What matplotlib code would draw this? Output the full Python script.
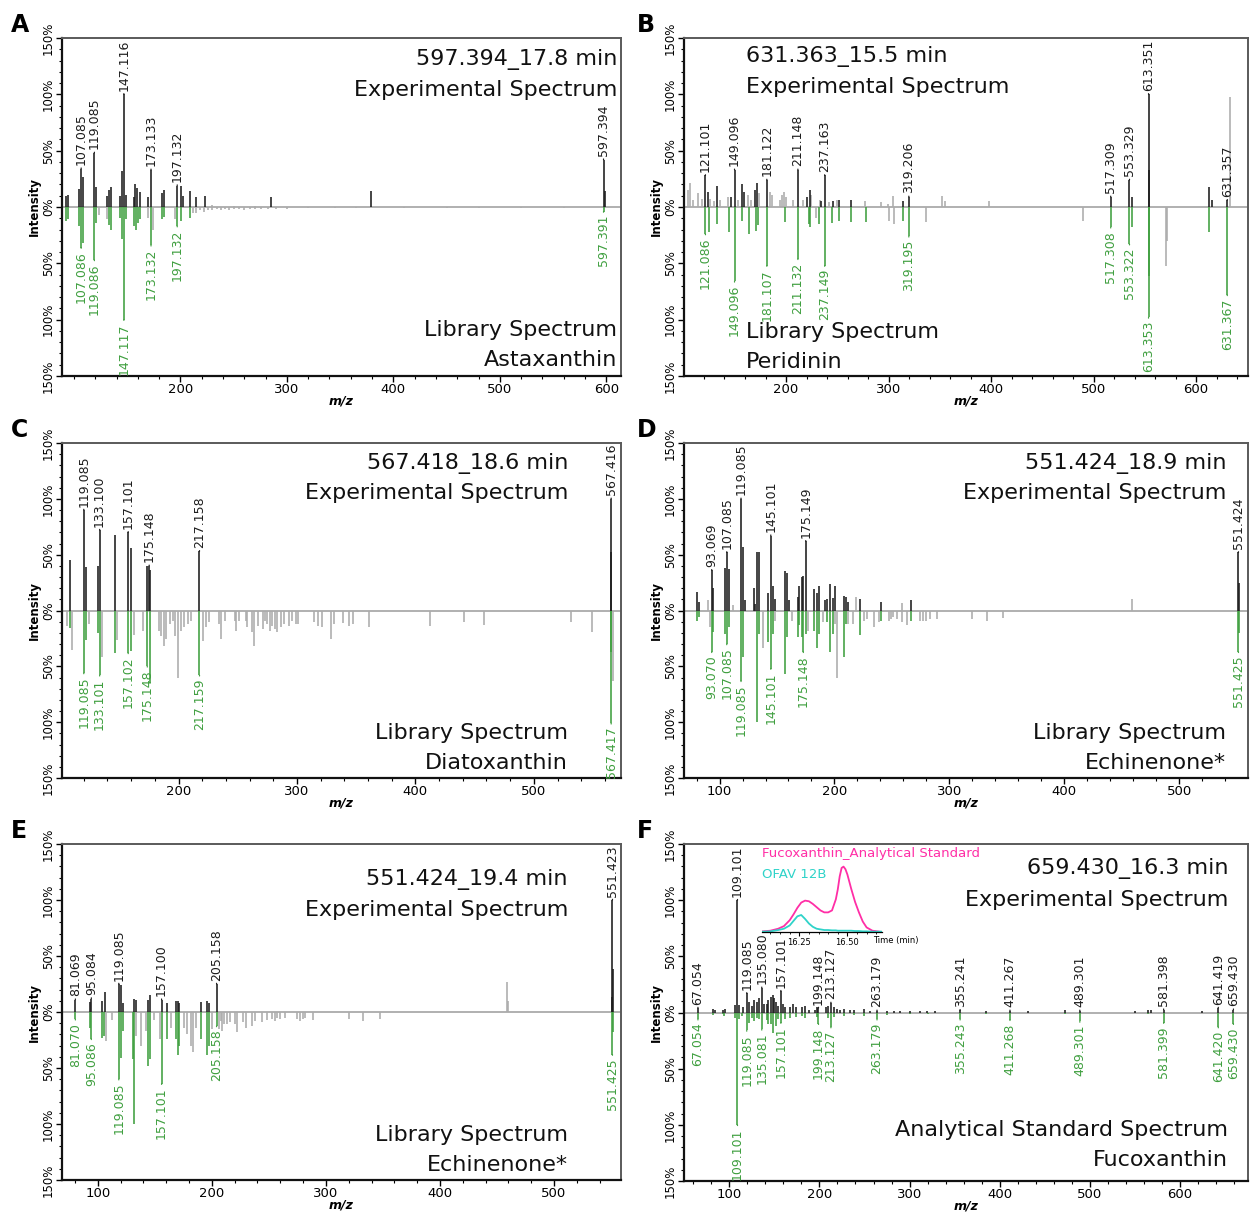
import matplotlib
matplotlib.use('Agg')
import matplotlib.pyplot as plt
from matplotlib.ticker import MultipleLocator

plt.rcParams['font.family'] = ['DejaVu Sans']

# ---------------- panel A : Astaxanthin ----------------
A_exp_black = [(92.8, 9.5), (94.7, 11), (105.2, 16), (108.9, 26.5), (121.2, 18), (131, 10),
               (132.9, 15.5), (134.8, 17.6), (142.9, 9.5), (145, 32), (148.5, 11), (156.2, 8.7),
               (157.2, 20), (159, 17), (161.6, 13), (169.3, 8.7), (183, 12), (184.5, 15.5),
               (200.4, 18.5), (202.5, 10), (209, 14.6), (215, 9), (223, 10), (285, 9),
               (379.2, 14), (598.5, 14)]
A_exp_gray = [(230, 1.5), (250, 1), (270, 1)]
A_exp_labels = [(106.8, 34, '107.085'), (119.2, 48, '119.085'), (146.9, 100, '147.116'),
                (172.4, 33, '173.133'), (197, 19, '197.132'), (597.4, 42, '597.394')]
A_lib_green = [(92.8, 12), (94.7, 11), (105.2, 17), (108.9, 32), (121.2, 14), (132.9, 16),
               (134.8, 20), (142.9, 10), (145, 28), (148.5, 11), (156.2, 17), (158, 20),
               (160, 14), (161.6, 11), (183, 11), (184.5, 9), (200.4, 12), (209, 10)]
A_lib_gray = [(123.5, 7), (131, 11), (169.3, 10), (173.8, 20), (194.8, 11), (212, 5), (215, 5),
              (218, 3), (222, 4), (226, 2.5), (230, 3), (234, 2), (238, 3), (242, 2), (246, 2.5),
              (250, 2), (255, 2), (260, 2.5), (265, 2), (270, 2), (276, 1.5), (282, 2),
              (290, 1.5), (300, 1.5), (320, 1), (345, 1), (365, 1), (410, 1), (450, 1),
              (480, 1), (520, 1), (560, 1)]
A_lib_labels = [(106.8, 36, '107.086'), (119.2, 47, '119.086'), (146.9, 100, '147.117'),
                (172.4, 34, '173.132'), (197, 17, '197.132'), (597.4, 4, '597.391')]

# ---------------- panel B : Peridinin ----------------
B_exp_black = [(124.3, 13), (132.9, 19), (146.5, 9), (157.1, 20), (159, 13), (169.3, 15),
               (171.3, 21), (220.8, 9), (223, 15.5), (234.5, 5), (245.8, 5), (251.4, 6.5),
               (263.8, 6.5), (314.3, 5), (537, 9), (554, 33), (612.8, 18), (615, 6)]
B_exp_gray = [(104.8, 15), (106.7, 21), (109, 6), (113.9, 12), (117.8, 7), (126.3, 7.5),
              (129.5, 5.5), (136, 6), (143.2, 9), (153, 6), (162.8, 10.5), (166, 6),
              (173.2, 12), (184, 13), (186.2, 10.5), (193.7, 6), (196, 10.5), (198, 13),
              (200.3, 9), (206.7, 6.5), (216.5, 6.5), (224.7, 10.5), (232.8, 6.5),
              (241.6, 4.5), (250, 6.5), (276.8, 5.5), (293, 4.5), (299.6, 3), (304.5, 9.5),
              (351.8, 10), (355, 5), (397.5, 5), (633.5, 98)]
B_exp_labels = [(121.4, 28, '121.101'), (149.8, 33, '149.096'), (181.3, 24, '181.122'),
                (211.6, 33, '211.148'), (237.7, 28, '237.163'), (319.8, 9, '319.206'),
                (516.7, 9, '517.309'), (535, 24, '553.329'), (553.6, 100, '613.351'),
                (630.4, 6, '631.357')]
B_lib_green = [(125.3, 22), (132.9, 15), (144.8, 22), (157, 12), (163.8, 24), (170.9, 21),
               (172.5, 16), (199, 13), (222, 15), (223.6, 18), (232.5, 15), (245, 14),
               (251.4, 12), (263, 13), (277.7, 13), (314.3, 12), (537, 18), (554, 61),
               (612.8, 22)]
B_lib_gray = [(229.3, 10), (300.5, 12), (305, 15), (337, 13), (490, 12), (570.8, 52), (572, 30)]
B_lib_labels = [(121.4, 24, '121.086'), (149.8, 66, '149.096'), (181.3, 52, '181.107'),
                (211.6, 46, '211.132'), (237.7, 52, '237.149'), (319.8, 26, '319.195'),
                (516.7, 18, '517.308'), (535, 33, '553.322'), (553.6, 98, '613.353'),
                (630.4, 78, '631.367')]

# ---------------- panel C : Diatoxanthin ----------------
C_exp_black = [(108.3, 45), (121.7, 39), (132, 40), (146, 68), (159.5, 56), (173.6, 40),
               (176.2, 36), (565.0, 52)]
C_exp_gray = []
C_exp_labels = [(120, 90, '119.085'), (133.4, 72, '133.100'), (157.5, 70, '157.101'),
                (175.2, 40, '175.148'), (217.7, 53, '217.158'), (565.3, 100, '567.416')]
C_lib_green = [(108.3, 16), (121.7, 26), (132, 20), (146, 38), (159.5, 36), (176.2, 65),
               (565.0, 37)]
C_lib_gray = [(105.9, 14), (110, 35), (124, 12), (135.7, 42), (148.4, 26), (162, 22),
              (170.2, 18), (183.5, 18), (185.5, 22.6), (187.4, 31.6), (189.7, 25.6),
              (192.4, 12), (195.2, 9), (196.6, 22.6), (199.7, 60), (202.2, 18), (205, 15),
              (207.8, 12), (210.7, 9), (221, 27), (223.3, 15), (225.5, 10.5), (234.4, 12),
              (235.9, 25.6), (239.5, 9), (247.9, 9), (248.5, 18), (251.2, 9), (256.9, 9),
              (258.2, 15), (262.4, 19.6), (263.3, 31.6), (267.5, 13.5), (270.9, 16.6),
              (273, 9), (275, 12), (277, 18), (279.2, 13.5), (281.5, 16.6), (283.4, 19.6),
              (286.3, 15), (289, 12), (293.2, 13.5), (296, 9), (299.4, 12), (300.8, 12),
              (314, 10), (317.5, 13.5), (321, 15), (328.6, 25.6), (331, 12), (339, 11),
              (344, 13.5), (347.6, 12), (360.4, 15), (412.3, 13.5), (440.7, 10.5),
              (458, 13), (531.8, 10.5), (549.5, 19.6), (566.8, 63)]
C_lib_labels = [(120, 56, '119.085'), (133.4, 58, '133.101'), (157.5, 38, '157.102'),
                (173.6, 50, '175.148'), (217.7, 58, '217.159'), (565.3, 101, '567.417')]

# ---------------- panel D : Echinenone* ----------------
D_exp_black = [(80.2, 16.4), (82.4, 7.5), (94.6, 20), (104.8, 38), (108.5, 37), (120.7, 57),
               (122.5, 9.5), (130, 20), (131.2, 6), (132.9, 52), (134.6, 52), (142.5, 16),
               (146.3, 22), (148.3, 10), (157, 35), (158.5, 34), (160.5, 9), (168, 12.5),
               (169.5, 21.5), (171.5, 30), (172.9, 31), (182.2, 19), (184.6, 16),
               (186.6, 21.5), (191.8, 9), (193.8, 10.5), (196.2, 24), (198.5, 11),
               (200.5, 22), (208.4, 13), (210.1, 12), (212.1, 8), (222.3, 10.5),
               (240.3, 7.5), (266.4, 9.5), (551.8, 25)]
D_exp_gray = [(90.3, 9.5), (112, 4.5), (218.8, 12.5), (258.6, 7), (458.4, 10.4)]
D_exp_labels = [(93.2, 36, '93.069'), (106.3, 52, '107.085'), (118.7, 100, '119.085'),
                (144.6, 67, '145.101'), (175, 62, '175.149'), (551.4, 52, '551.424')]
D_lib_green = [(80.2, 9), (82.4, 6), (94.6, 19), (104.8, 21), (108.5, 15), (120.7, 42),
               (132.9, 100), (134.6, 21), (142.5, 28), (146.3, 21), (157, 57), (158.5, 24),
               (168, 24), (169.5, 13), (171.5, 24), (175, 21), (182.2, 18), (184.6, 34),
               (186.6, 21), (193.8, 10), (196.2, 37), (198.5, 21), (208.4, 42), (210.1, 12),
               (222.3, 22), (240.3, 9), (266.4, 9), (551.8, 20)]
D_lib_gray = [(91.7, 15), (137.9, 34), (148.3, 9), (162.9, 9), (177.3, 18), (190.4, 10),
              (200.5, 12), (202.5, 60), (212.1, 12), (216.5, 12), (225.3, 9), (228.7, 7.5),
              (234, 15), (239, 10), (247, 9), (249, 7.5), (251, 6), (254, 7.5), (258.6, 10),
              (263, 13), (274.5, 9), (277.4, 9), (280, 9), (283, 7.5), (289, 7.5),
              (319.6, 7.5), (332.8, 9), (346.7, 7)]
D_lib_labels = [(93.2, 37, '93.070'), (106.3, 30, '107.085'), (118.7, 63, '119.085'),
                (144.6, 52, '145.101'), (172.9, 37, '175.148'), (551.4, 37, '551.425')]

# ---------------- panel E : Echinenone* ----------------
E_exp_black = [(92.9, 9), (103.7, 10), (106, 18), (120.5, 24), (122, 8), (131.6, 12),
               (133.6, 11), (144.4, 11), (146.1, 15), (160.6, 8), (168.5, 10), (170, 10),
               (171.4, 8), (190.3, 9), (196.1, 10), (197.5, 8), (551.0, 13), (551.6, 38)]
E_exp_gray = [(459, 27), (460, 10)]
E_exp_labels = [(80.4, 11, '81.069'), (94.4, 12, '95.084'), (118.5, 25, '119.085'),
                (156, 11, '157.100'), (204.2, 25, '205.158'), (551.2, 100, '551.423')]
E_lib_green = [(92.9, 14), (103.7, 23), (105.4, 21), (120.5, 41), (122, 17), (130.7, 42),
               (132.2, 100), (144.4, 48), (146.1, 42), (160.6, 24), (168.5, 24), (170, 38),
               (171.4, 30), (190.3, 24), (196.1, 38), (197.5, 30), (551.6, 18)]
E_lib_gray = [(107.4, 26), (112.4, 7), (133.6, 21), (138, 30), (142.3, 17), (149.7, 7),
              (155, 24), (164.1, 14), (175.8, 14), (178.7, 20), (181.6, 30), (183.9, 36),
              (185.9, 14), (200.4, 15), (206.2, 15), (207.7, 8), (209.1, 17), (210.6, 11),
              (213.5, 11), (215.8, 9), (220.7, 11), (222.2, 18), (227.4, 9), (230.3, 14),
              (235.2, 12.5), (238.2, 8), (244, 9), (248.3, 7), (252.7, 6), (255.6, 8),
              (257, 5), (260, 6.5), (264.3, 5), (274.5, 6.5), (277.4, 8), (280.3, 6.5),
              (281.7, 5), (289, 7), (320, 6.5), (332.9, 8), (347.2, 6)]
E_lib_labels = [(80.4, 6.5, '81.070'), (94.4, 24, '95.086'), (118.5, 60, '119.085'),
                (156, 64, '157.101'), (204.2, 12.5, '205.158'), (551.2, 38, '551.425')]

# ---------------- panel F : Fucoxanthin ----------------
F_exp_black = [(81.4, 3), (84, 2), (92.5, 2), (94.7, 3), (106.2, 7), (111, 7), (115.5, 4.5),
               (121.8, 9), (124.8, 6), (127.7, 11), (130.4, 9), (133.3, 13), (138.5, 7.5),
               (141.5, 7.5), (143.3, 11), (145.9, 14), (148.2, 15.5), (149.6, 13),
               (151.8, 9), (154.4, 6), (159.3, 7.5), (161.8, 5), (167.4, 4.5), (171.1, 8),
               (174.1, 4.5), (180.4, 5), (184.1, 6), (187.8, 2), (195.2, 2), (197.1, 4.5),
               (207.5, 4.5), (210, 6), (215.6, 5), (219.4, 3), (222.3, 2), (226.7, 3),
               (234.2, 2), (237.8, 2), (249, 3), (256.4, 1.5), (275, 1.5), (282.3, 1),
               (289.8, 1), (300.9, 1), (312, 1), (319.5, 1), (328.7, 1.5), (385, 1),
               (431.6, 1), (472.3, 2), (550.4, 1), (564.5, 2), (568, 2), (624.4, 1)]
F_exp_gray = []
F_exp_labels = [(65, 4, '67.054'), (108.9, 100, '109.101'), (119.2, 17, '119.085'),
                (135.9, 22, '135.080'), (157.1, 19, '157.101'), (198.9, 4, '199.148'),
                (212.7, 8.5, '213.127'), (263.9, 1.5, '263.179'), (356.2, 2, '355.241'),
                (411.6, 1.5, '411.267'), (489.2, 1.5, '489.301'), (582.3, 2.5, '581.398'),
                (643, 4, '641.419'), (659.8, 2.5, '659.430')]
F_lib_green = [(82.1, 2), (92.5, 1.5), (94, 3), (106.2, 5), (111, 6), (113.7, 3), (121.8, 9),
               (124.8, 4.5), (127.7, 7.5), (130.4, 5), (133.3, 6), (141.5, 7), (143.3, 10),
               (145.9, 10), (148.8, 18), (151.8, 12), (154.4, 6), (161.8, 6), (167.4, 4.5),
               (174.1, 4), (180.4, 3), (184.1, 5), (197.1, 4), (210, 5), (215.6, 4),
               (226.7, 3), (237.8, 2), (249, 3), (275, 2), (300, 1), (320, 1), (385, 1),
               (472.3, 1.5), (564.5, 1.5)]
F_lib_gray = []
F_lib_labels = [(65, 6, '67.054'), (108.9, 100, '109.101'), (119.2, 16, '119.085'),
                (135.9, 15, '135.081'), (157.1, 9, '157.101'), (198.9, 10, '199.148'),
                (212.7, 13, '213.127'), (263.9, 6, '263.179'), (356.2, 6, '355.243'),
                (411.6, 6.5, '411.268'), (489.2, 8, '489.301'), (582.3, 9, '581.399'),
                (643, 13, '641.420'), (659.8, 10, '659.430')]

# inset chromatogram (panel F), relative intensity
inset_time = [16.06, 16.10, 16.14, 16.17, 16.20, 16.22, 16.24, 16.26, 16.28, 16.30, 16.32,
              16.34, 16.36, 16.38, 16.40, 16.42, 16.44, 16.45, 16.46, 16.47, 16.48, 16.49,
              16.50, 16.52, 16.54, 16.56, 16.58, 16.60, 16.63, 16.68]
fuco_std = [1, 2, 5, 9, 18, 27, 37, 45, 48, 47, 43, 38, 33, 30, 30, 33, 50, 65, 85, 98, 100,
            96, 88, 66, 46, 30, 16, 7, 2, 0]
ofav_12b = [0.5, 1, 3, 5, 10, 17, 24, 26, 20, 13, 8, 5, 4, 3, 3, 2.5, 2.5, 2, 2, 2, 2, 2, 2,
            2, 1.5, 1.5, 1, 1, 0.5, 0.5]

BLACK = '#1c1c1c'
GRAY = '#ababab'
GREEN = '#3f9f3f'
MAGENTA = '#ff2ea6'
CYAN = '#2fd3c9'

W, H = 1250, 1214
fig = plt.figure(figsize=(W / 100, H / 100), dpi=100)


def rect(l, t, r, b):  # pixel box -> figure fraction
    return [l / W, 1 - b / H, (r - l) / W, (b - t) / H]


def bars(ax, peaks, color, sign):
    if not peaks:
        return
    mz = [p[0] for p in peaks]
    h = [sign * p[1] for p in peaks]
    ax.vlines(mz, 0, h, colors=color, lw=1.15, zorder=2)


def labels(ax, labs, color, sign):
    for mz, h, txt in labs:
        ax.vlines(mz, 0, sign * h, colors=color, lw=1.15, zorder=3)
        ax.annotate(txt, xy=(mz, sign * h), xytext=(0, sign * 2.5), textcoords='offset points',
                    rotation=90, ha='center', va='bottom' if sign > 0 else 'top',
                    color=color, fontsize=9,
                    arrowprops=dict(arrowstyle='-', color=color, lw=0.9, shrinkA=0, shrinkB=0))


panels = [
    dict(letter='A', box=(62, 38, 621, 376), xlim=(88.8, 613.8), xt=[200, 300, 400, 500, 600],
         data=(A_exp_black, A_exp_gray, A_exp_labels, A_lib_green, A_lib_gray, A_lib_labels),
         lines=('597.394_17.8 min', 'Experimental Spectrum', 'Library Spectrum', 'Astaxanthin'),
         tx=0.993, ha='right', ty=(0.935, 0.846, 0.136, 0.047)),
    dict(letter='B', box=(684, 38, 1248, 376), xlim=(100.5, 650.6), xt=[200, 300, 400, 500, 600],
         data=(B_exp_black, B_exp_gray, B_exp_labels, B_lib_green, B_lib_gray, B_lib_labels),
         lines=('631.363_15.5 min', 'Experimental Spectrum', 'Library Spectrum', 'Peridinin'),
         tx=0.110, ha='left', ty=(0.944, 0.855, 0.130, 0.041)),
    dict(letter='C', box=(62, 443, 621, 778), xlim=(101.6, 573.6), xt=[200, 300, 400, 500],
         data=(C_exp_black, C_exp_gray, C_exp_labels, C_lib_green, C_lib_gray, C_lib_labels),
         lines=('567.418_18.6 min', 'Experimental Spectrum', 'Library Spectrum', 'Diatoxanthin'),
         tx=0.905, ha='right', ty=(0.940, 0.851, 0.134, 0.045)),
    dict(letter='D', box=(684, 443, 1248, 778), xlim=(69.1, 559.7), xt=[100, 200, 300, 400, 500],
         data=(D_exp_black, D_exp_gray, D_exp_labels, D_lib_green, D_lib_gray, D_lib_labels),
         lines=('551.424_18.9 min', 'Experimental Spectrum', 'Library Spectrum', 'Echinenone*'),
         tx=0.961, ha='right', ty=(0.940, 0.851, 0.134, 0.045)),
    dict(letter='E', box=(62, 844, 621, 1180), xlim=(68.7, 558.7), xt=[100, 200, 300, 400, 500],
         data=(E_exp_black, E_exp_gray, E_exp_labels, E_lib_green, E_lib_gray, E_lib_labels),
         lines=('551.424_19.4 min', 'Experimental Spectrum', 'Library Spectrum', 'Echinenone*'),
         tx=0.905, ha='right', ty=(0.893, 0.804, 0.134, 0.045)),
    dict(letter='F', box=(684, 844, 1248, 1181), xlim=(49.5, 676), xt=[100, 200, 300, 400, 500, 600],
         data=(F_exp_black, F_exp_gray, F_exp_labels, F_lib_green, F_lib_gray, F_lib_labels),
         lines=('659.430_16.3 min', 'Experimental Spectrum', 'Analytical Standard Spectrum',
                'Fucoxanthin'),
         tx=0.965, ha='right', ty=(0.926, 0.834, 0.151, 0.062)),
]

for p in panels:
    l, t, r, b = p['box']
    ax = fig.add_axes(rect(l, t, r, b))
    ax.set_xlim(*p['xlim'])
    ax.set_ylim(-150, 150)
    ax.axhline(0, color='#a3a3a3', lw=1.2, zorder=1)

    exp_b, exp_g, exp_l, lib_g, lib_gr, lib_l = p['data']
    bars(ax, exp_g, GRAY, 1)
    bars(ax, lib_gr, GRAY, -1)
    bars(ax, exp_b, BLACK, 1)
    bars(ax, lib_g, GREEN, -1)
    labels(ax, exp_l, BLACK, 1)
    labels(ax, lib_l, GREEN, -1)

    for s, y in zip(p['lines'], p['ty']):
        ax.text(p['tx'], y, s, transform=ax.transAxes, ha=p['ha'], va='center',
                fontsize=16, color='#111111')

    ax.set_xticks(p['xt'])
    ax.xaxis.set_minor_locator(MultipleLocator(20))
    ax.set_yticks([-150, -100, -50, 0, 50, 100, 150])
    ax.set_yticklabels(['150%', '100%', '50%', '0%', '50%', '100%', '150%'],
                       rotation=90, va='center')
    ax.yaxis.set_minor_locator(MultipleLocator(10))
    ax.tick_params(axis='x', which='major', length=4, width=1, labelsize=9.5, pad=1)
    ax.tick_params(axis='x', which='minor', length=2.5, width=0.8)
    ax.tick_params(axis='y', which='major', length=4, width=1, labelsize=8.5, pad=1)
    ax.tick_params(axis='y', which='minor', length=2.5, width=0.8)
    for side in ['left', 'bottom']:
        ax.spines[side].set_linewidth(1.6)
        ax.spines[side].set_color('#111111')
    for side in ['top', 'right']:
        ax.spines[side].set_linewidth(1.4)
        ax.spines[side].set_color('#5a5a5a')
    ax.set_ylabel('Intensity', fontsize=8.5, fontweight='bold', labelpad=1)
    ax.set_xlabel('m/z', fontsize=9, fontweight='bold', fontstyle='italic', labelpad=-1)

    lx = 11 if l < 300 else 637
    fig.text(lx / W, 1 - (t - 6) / H, p['letter'], fontsize=17, fontweight='bold',
             va='baseline', ha='left')

    if p['letter'] == 'F':
        axi = fig.add_axes(rect(762, 864, 882, 932))
        axi.set_facecolor('none')
        axi.plot(inset_time, fuco_std, color=MAGENTA, lw=1.3)
        axi.plot(inset_time, ofav_12b, color=CYAN, lw=1.3)
        axi.set_xlim(16.056, 16.68)
        axi.set_ylim(0, 104)
        axi.set_yticks([])
        axi.set_xticks([16.25, 16.5])
        axi.set_xticklabels(['16.25', '16.50'])
        axi.xaxis.set_minor_locator(MultipleLocator(0.05))
        axi.tick_params(axis='x', which='major', length=3, width=0.8, labelsize=6, pad=1)
        axi.tick_params(axis='x', which='minor', length=1.5, width=0.6)
        for side in ['left', 'top', 'right']:
            axi.spines[side].set_visible(False)
        axi.spines['bottom'].set_linewidth(0.9)
        fig.text(873 / W, 1 - 940 / H, 'Time (min)', fontsize=6, va='center', ha='left')
        fig.text(762 / W, 1 - 854 / H, 'Fucoxanthin_Analytical Standard', color=MAGENTA,
                 fontsize=9.5, va='center', ha='left')
        fig.text(762 / W, 1 - 875 / H, 'OFAV 12B', color=CYAN, fontsize=9.5,
                 va='center', ha='left')

fig.savefig('out.png', dpi=100, facecolor='white')
